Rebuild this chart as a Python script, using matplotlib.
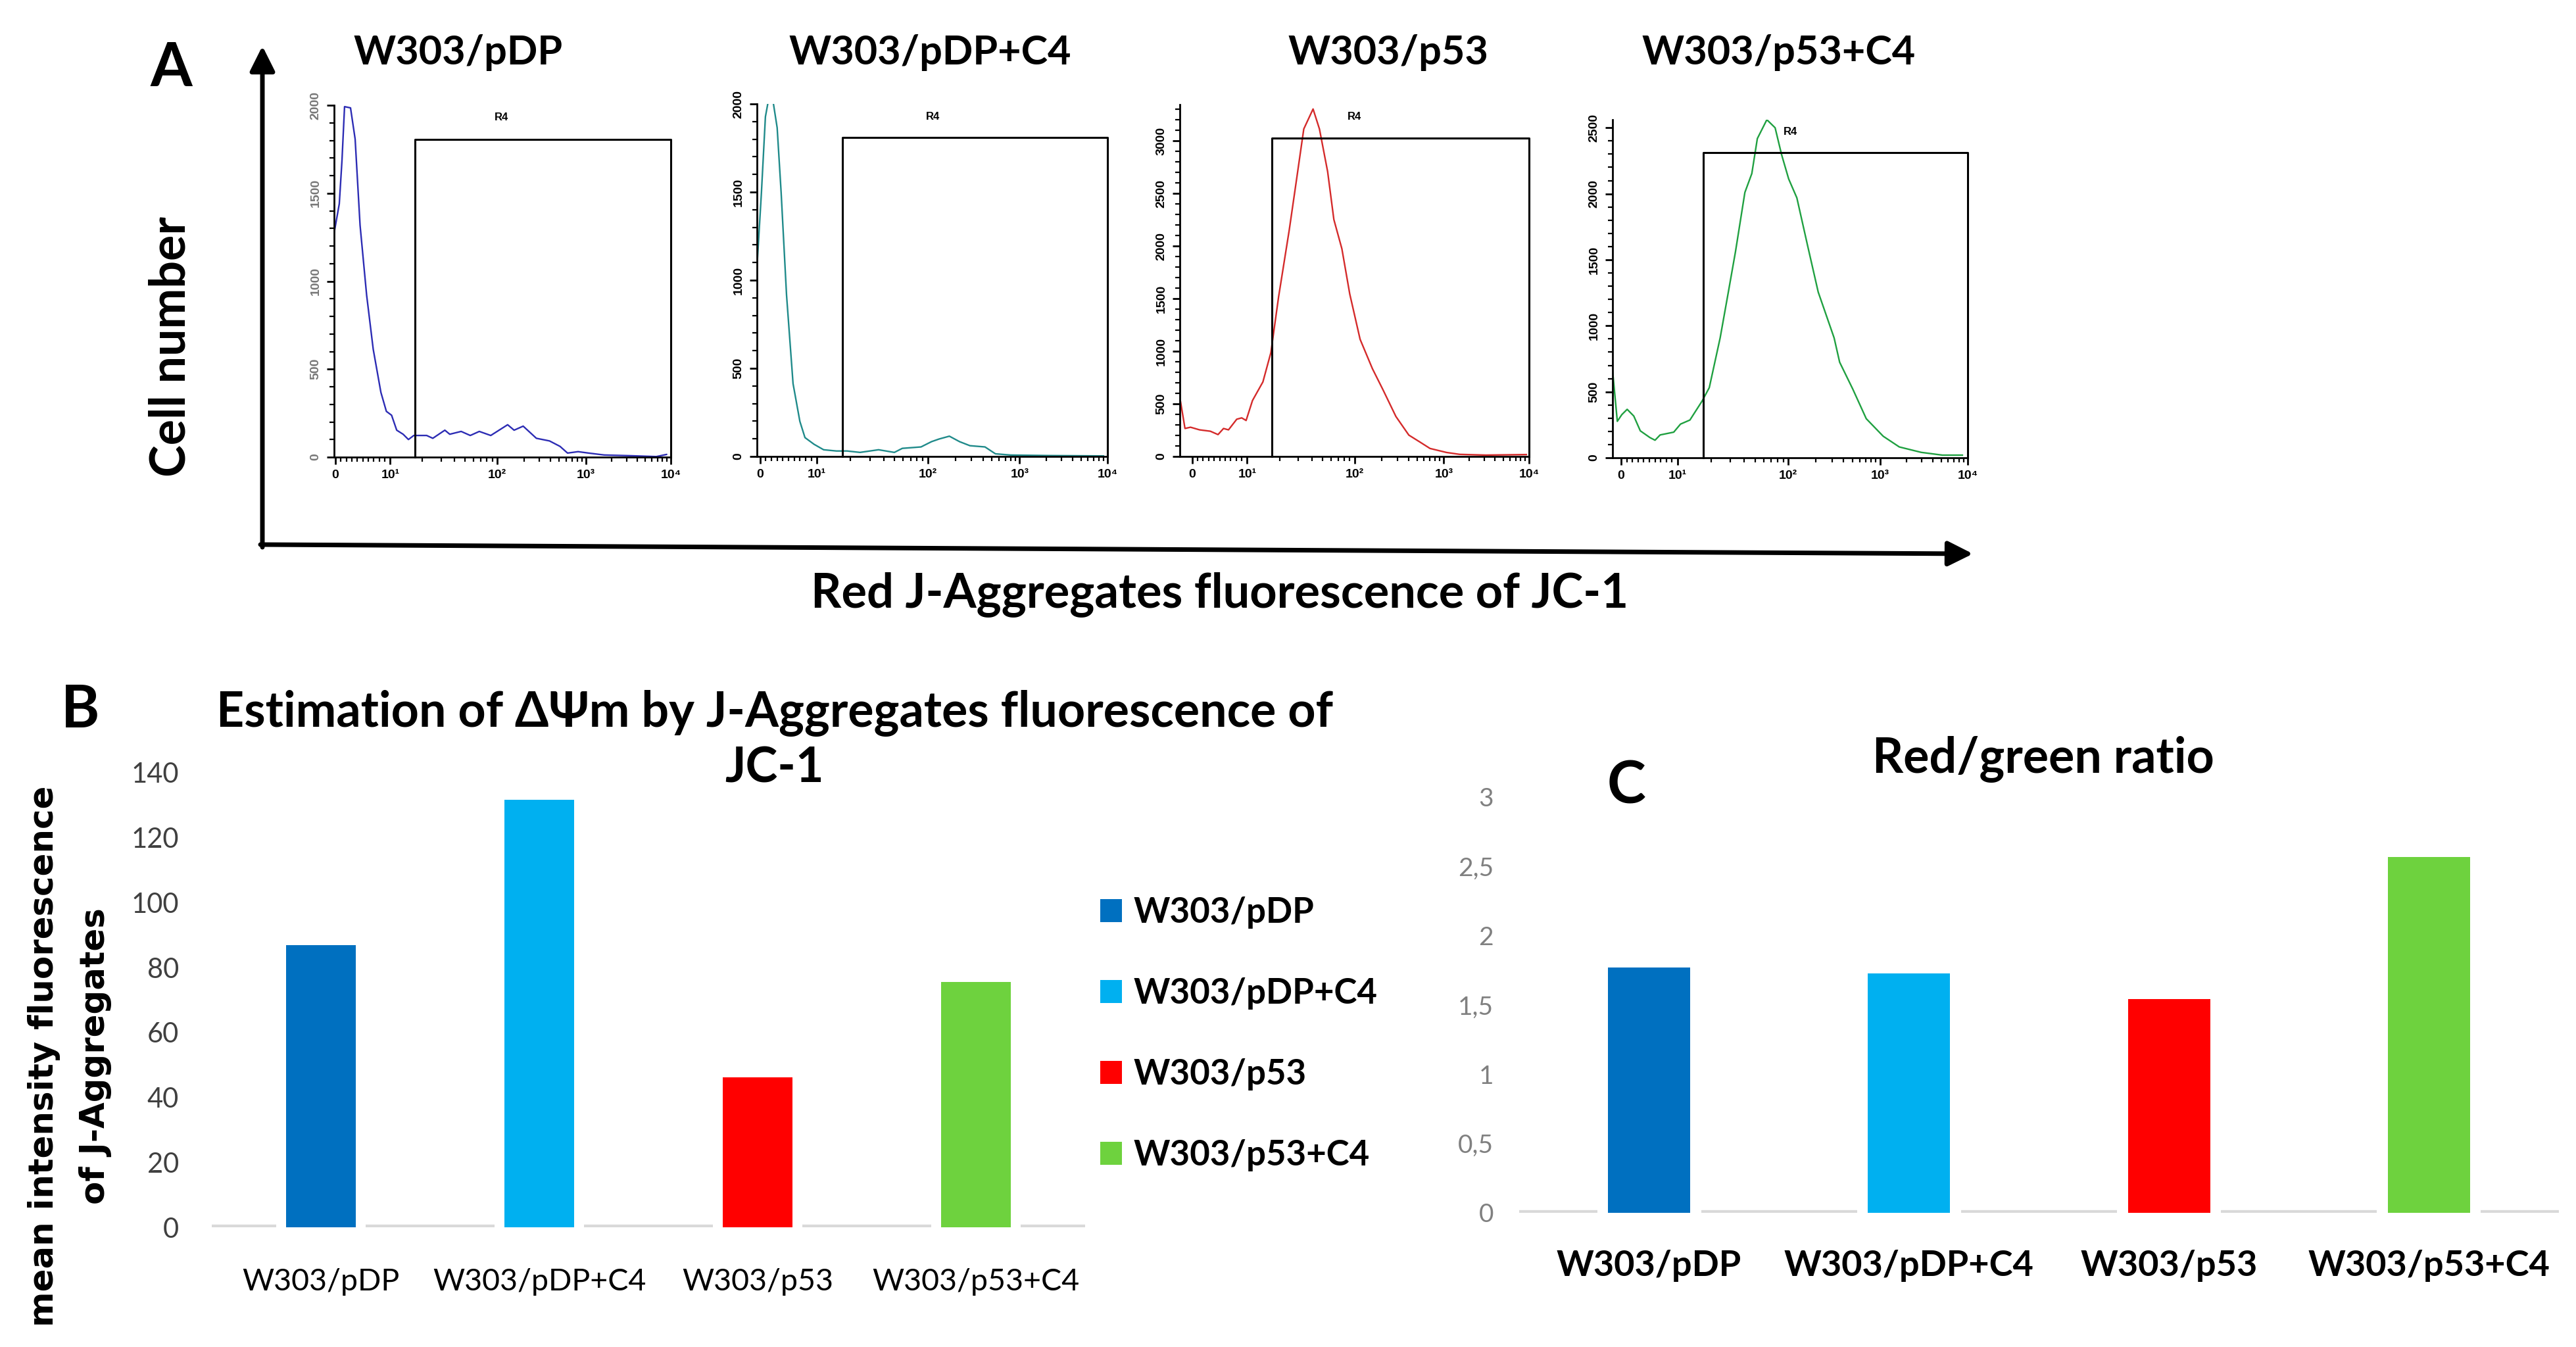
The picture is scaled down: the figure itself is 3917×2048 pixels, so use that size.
import numpy as np
import matplotlib.pyplot as plt
from matplotlib.patches import FancyArrowPatch
from matplotlib.ticker import FixedLocator, NullFormatter

plt.rcParams['font.family'] = ['Lato', 'DejaVu Sans']

# ---- data -------------------------------------------------------------
categories = ['W303/pDP', 'W303/pDP+C4', 'W303/p53', 'W303/p53+C4']
bar_colors = ['#0070C0', '#00B0F0', '#FF0000', '#6ED23E']
jc1_mean = [86.9, 131.7, 46.2, 75.6]          # panel B
red_green = [1.77, 1.73, 1.545, 2.57]         # panel C

# panel A histograms: fluorescence channel vs cell count
x_pdp = [-0.24, 0.71, 1.2, 1.67, 2.76, 3.6, 4.5, 5.7, 6.9, 8.3, 9.3, 10.3, 11.5, 13.2,
         14.8, 16.6, 21.9, 25, 32.4, 36, 46, 56, 68, 87, 131, 155, 196, 276, 388, 510,
         620, 815, 1073, 1640, 3300, 6750, 8900]
y_pdp = [1272, 1440, 1686, 1992, 1985, 1808, 1318, 920, 613, 368, 260, 238, 153, 130,
         100, 123, 123, 107, 153, 130, 146, 123, 146, 123, 184, 153, 176, 107, 92, 61,
         23, 31, 23, 12, 8, 3, 15]

x_pdp_c4 = [-0.56, 0.23, 0.93, 1.4, 2.3, 3.0, 3.7, 4.65, 5.8, 7.0, 7.9, 9.5, 11.5, 15,
            18.7, 24.5, 36, 50, 59, 87, 110, 133, 172, 222, 288, 420, 545, 800, 2200, 9000]
y_pdp_c4 = [1070, 1498, 1927, 2010, 2010, 1865, 1498, 917, 413, 199, 107, 69, 38, 31,
            31, 23, 38, 23, 46, 54, 84, 99, 115, 84, 61, 54, 15, 8, 5, 3]

x_p53 = [-2.1, -1.3, -0.3, 1.35, 3.3, 4.7, 5.7, 6.6, 8.1, 9.0, 9.8, 11.2, 14, 16.6, 19.6,
         24.6, 28.3, 33.6, 41, 47, 56, 64, 76, 90, 115, 158, 208, 290, 405, 535, 700,
         1075, 1530, 3100, 9300]
y_p53 = [519, 266, 278, 253, 240, 208, 266, 253, 354, 367, 342, 532, 709, 987, 1519,
         2152, 2582, 3114, 3304, 3114, 2709, 2253, 1975, 1544, 1114, 835, 633, 380, 203,
         139, 76, 38, 20, 13, 18]

x_p53_c4 = [-1.5, -0.66, 0.14, 1.08, 2.25, 3.4, 5.1, 6.0, 6.9, 9.3, 10.6, 12.9, 16.6, 19.3,
            24.2, 28.7, 33.3, 40.5, 46.8, 52.5, 64, 76, 87, 101, 124, 163, 212, 316, 363,
            505, 708, 1088, 1660, 2950, 5150, 8700]
y_p53_c4 = [663, 276, 327, 367, 316, 204, 153, 133, 173, 194, 255, 286, 429, 531, 908,
            1255, 1561, 2010, 2153, 2418, 2561, 2500, 2296, 2112, 1969, 1602, 1255, 908,
            724, 520, 296, 163, 82, 41, 20, 20]

hist_colors = ['#2c2cb4', '#1f8a8a', '#d42a2a', '#1fa040']
hist_ymax = [2000, 2000, 3346, 2561]
hist_xmin = [-0.24, -0.56, -2.24, -1.5]
gate_low = 17
gate_top = [1806, 1808, 3026, 2312]
r4_pos = [(112, 1931), (114, 1927), (100, 3230), (105, 2469)]

# ---- layout helpers (pixel positions on a 3917x2048 canvas) ----------------
W, H = 3917, 2048


def rect(x0, y0, x1, y1):
    return [x0 / W, 1 - y1 / H, (x1 - x0) / W, (y1 - y0) / H]


def fx(x):
    return x / W


def fy(y):
    return 1 - y / H


# flow-cytometer style axis: linear 0..10, then log decades of unequal width
DEC = np.array([1., 2., 3., 4.])
POS = np.array([210., 620., 960., 1285.])


def fwd(v):
    v = np.asarray(v, dtype=float)
    lg = np.log10(np.clip(v, 10, None))
    hi = np.interp(lg, DEC, POS)
    hi = np.where(lg > 4, POS[-1] + (lg - 4) * 325, hi)
    return np.where(v < 10, v * 21.0, hi)


def inv(u):
    u = np.asarray(u, dtype=float)
    lg = np.interp(u, POS, DEC)
    lg = np.where(u > POS[-1], 4 + (u - POS[-1]) / 325, lg)
    return np.where(u < 210, u / 21.0, 10 ** np.clip(lg, -10, 10))


fig = plt.figure(figsize=(39.17, 20.48), dpi=100)

# ---- panel A ------------------------------------------------------------
hist_rects = [rect(508, 160, 1020, 695), rect(1151, 158, 1684, 694),
              rect(1794, 159, 2325, 694), rect(2452, 182, 2992, 696)]
title_x = [697, 1414, 2111, 2705]
hist_x = [x_pdp, x_pdp_c4, x_p53, x_p53_c4]
hist_y = [y_pdp, y_pdp_c4, y_p53, y_p53_c4]
tick_font = ['Liberation Sans', 'DejaVu Sans']

for i in range(4):
    ax = fig.add_axes(hist_rects[i])
    ax.set_xscale('function', functions=(fwd, inv))
    ax.plot(hist_x[i], hist_y[i], color=hist_colors[i], lw=1.7)
    ax.plot([gate_low, gate_low, 1e4, 1e4], [0, gate_top[i], gate_top[i], 0],
            color='black', lw=2.2, clip_on=False)
    ax.text(r4_pos[i][0], r4_pos[i][1], 'R4', ha='center', va='center',
            fontsize=12, fontweight='bold', family=tick_font)
    ax.set_xlim(hist_xmin[i], 1e4)
    ax.set_ylim(0, hist_ymax[i])
    for s in ['top', 'right']:
        ax.spines[s].set_visible(False)
    for s in ['left', 'bottom']:
        ax.spines[s].set_linewidth(2)

    ax.xaxis.set_major_locator(FixedLocator([0, 10, 100, 1000, 10000]))
    ax.set_xticklabels(['0', '10¹', '10²', '10³', '10⁴'])
    minor = list(range(1, 10)) + [m * 10 ** d for d in (1, 2, 3) for m in range(2, 10)]
    ax.xaxis.set_minor_locator(FixedLocator(minor))
    ax.xaxis.set_minor_formatter(NullFormatter())
    ax.yaxis.set_major_locator(FixedLocator(np.arange(0, hist_ymax[i] + 1, 500)))
    ax.yaxis.set_minor_locator(FixedLocator(np.arange(0, hist_ymax[i] + 1, 100)))
    ax.yaxis.set_minor_formatter(NullFormatter())
    lab_col = '#777777' if i == 0 else 'black'
    ax.tick_params(which='major', length=8, width=2, labelsize=14, pad=6)
    ax.tick_params(which='minor', length=5, width=1.6)
    ax.tick_params(axis='y', labelrotation=90, labelcolor=lab_col)
    for lab in ax.get_xticklabels() + ax.get_yticklabels():
        lab.set_family(tick_font)
        lab.set_fontweight('bold')
    for lab in ax.get_yticklabels():
        lab.set_va('center')

    fig.text(fx(title_x[i]), fy(80), categories[i], ha='center', va='center',
             fontsize=44, fontweight='bold')

fig.text(fx(260), fy(105), 'A', ha='center', va='center', fontsize=66, fontweight='bold')
fig.text(fx(260), fy(527), 'Cell number', ha='center', va='center', rotation=90,
         fontsize=53, fontweight='bold')
fig.text(fx(1855), fy(904), 'Red J-Aggregates fluorescence of JC-1', ha='center',
         va='center', fontsize=52, fontweight='bold')

arrow_style = '-|>,head_length=2.3,head_width=1.15'
fig.add_artist(FancyArrowPatch((fx(399), fy(832)), (fx(399), fy(70)),
                               transform=fig.transFigure, arrowstyle=arrow_style,
                               mutation_scale=10, lw=5, color='black',
                               shrinkA=0, shrinkB=0))
fig.add_artist(FancyArrowPatch((fx(396), fy(828)), (fx(3000), fy(842)),
                               transform=fig.transFigure, arrowstyle=arrow_style,
                               mutation_scale=10, lw=5, color='black',
                               shrinkA=0, shrinkB=0))

# ---- panel B ------------------------------------------------------------
xs = np.arange(len(categories))
axb = fig.add_axes(rect(322, 1175, 1650, 1866))
axb.axhline(0, color='#d9d9d9', lw=6, zorder=1)
axb.bar(xs, jc1_mean, width=0.41, color='white', zorder=2)
bars_b = axb.bar(xs, jc1_mean, width=0.32, color=bar_colors, zorder=3)
axb.set_xlim(-0.5, 3.5)
axb.set_ylim(0, 140)
axb.set_yticks(range(0, 141, 20))
axb.set_xticks(xs, categories)
for s in axb.spines.values():
    s.set_visible(False)
axb.tick_params(length=0)
axb.tick_params(axis='y', labelsize=30, labelcolor='#404040', pad=36)
axb.tick_params(axis='x', labelsize=33.5, pad=45)

axb.legend(bars_b.patches, categories, loc='center left',
           bbox_to_anchor=(fx(1673), fy(1572)), bbox_transform=fig.transFigure,
           frameon=False, prop={'size': 38, 'weight': 'bold'},
           handlelength=0.63, handleheight=0.63, handletextpad=0.32,
           labelspacing=1.4, borderpad=0, borderaxespad=0)

fig.text(fx(122), fy(1080), 'B', ha='center', va='center', fontsize=64, fontweight='bold')
fig.text(fx(1178), fy(1126), 'Estimation of ΔΨm by J-Aggregates fluorescence of\nJC-1',
         ha='center', va='center', multialignment='center', linespacing=1.25,
         fontsize=53, fontweight='bold')
fig.text(fx(106), fy(1606), 'mean intensity fluorescence\nof J-Aggregates',
         ha='center', va='center', multialignment='center', rotation=90,
         linespacing=1.7, fontsize=37, fontweight='bold', family='DejaVu Sans')

# ---- panel C ------------------------------------------------------------
axc = fig.add_axes(rect(2310, 1212, 3891, 1844))
axc.axhline(0, color='#d9d9d9', lw=6, zorder=1)
axc.bar(xs, red_green, width=0.40, color='white', zorder=2)
axc.bar(xs, red_green, width=0.316, color=bar_colors, zorder=3)
axc.set_xlim(-0.5, 3.5)
axc.set_ylim(0, 3)
axc.set_yticks([0, 0.5, 1, 1.5, 2, 2.5, 3], ['0', '0,5', '1', '1,5', '2', '2,5', '3'])
axc.set_xticks(xs, categories)
for s in axc.spines.values():
    s.set_visible(False)
axc.tick_params(length=0)
axc.tick_params(axis='y', labelsize=28, labelcolor='#808080', pad=28)
axc.tick_params(axis='x', labelsize=39, pad=40)
for lab in axc.get_xticklabels():
    lab.set_fontweight('bold')

fig.text(fx(2473), fy(1195), 'C', ha='center', va='center', fontsize=64, fontweight='bold')
fig.text(fx(3107), fy(1154), 'Red/green ratio', ha='center', va='center',
         fontsize=53, fontweight='bold')

fig.savefig('out.png', dpi=100)
